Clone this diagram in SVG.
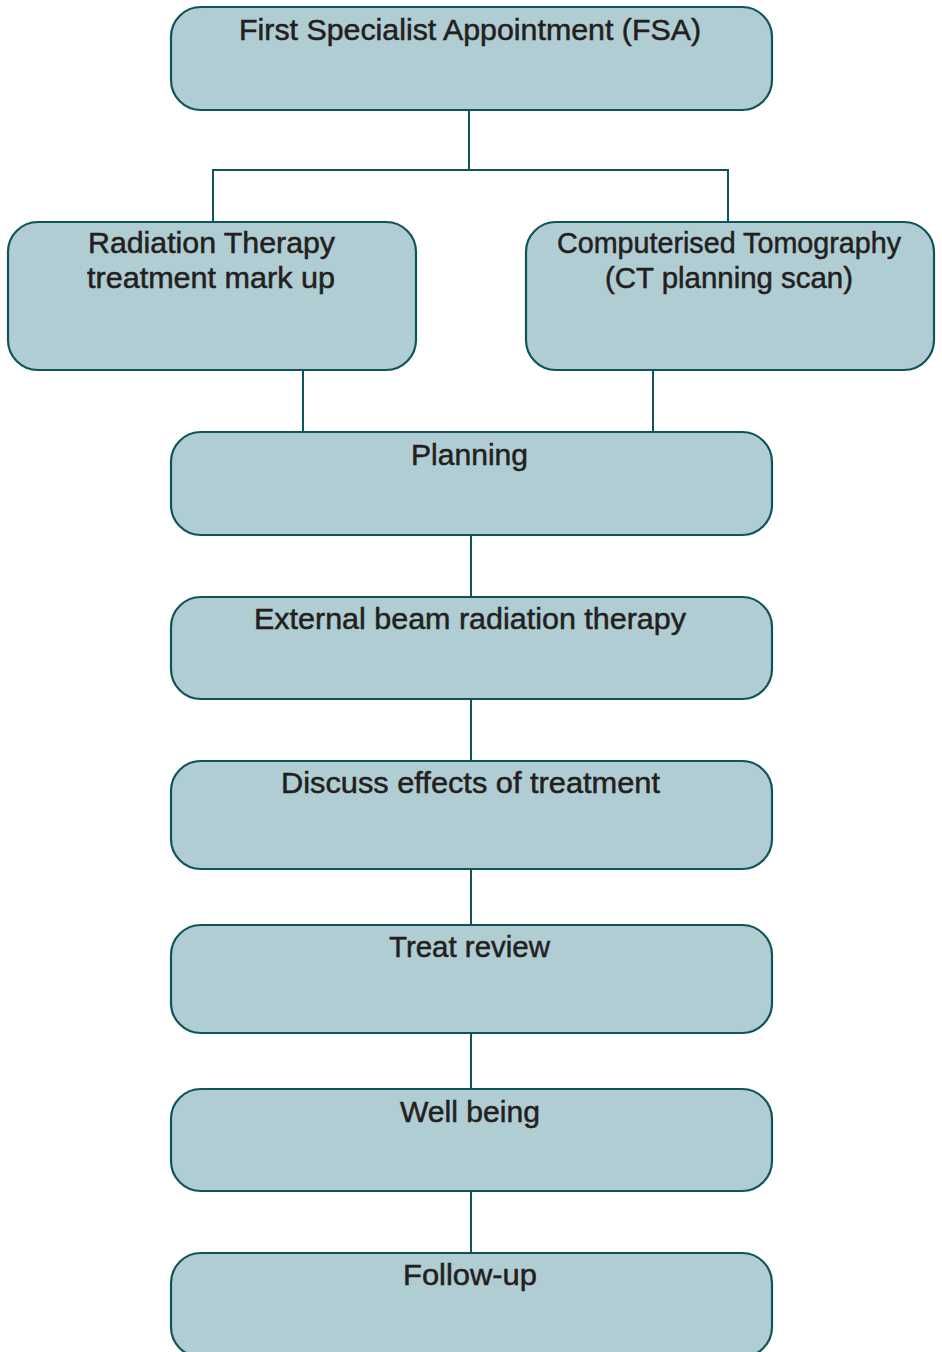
<svg xmlns="http://www.w3.org/2000/svg" width="942" height="1352" viewBox="0 0 942 1352">
<style>
.box{fill:#b0cdd3;stroke:#0f5458;stroke-width:2.2}
.lbl{font-family:"Liberation Sans",Arial,sans-serif;font-size:29px;fill:#231f20;stroke:#231f20;stroke-width:0.5;text-anchor:middle}
.ln{fill:none;stroke:#0f5458;stroke-width:2}
</style>
<rect width="942" height="1352" fill="#ffffff"/>
<g id="connectors">
<path class="ln" d="M469 110 V170"/>
<path class="ln" d="M213 222 V170 H728 V222" stroke="#1c3336"/>
<path class="ln" d="M303 370 V432"/>
<path class="ln" d="M653 370 V432"/>
<path class="ln" d="M471 535 V597"/>
<path class="ln" d="M471 699 V761"/>
<path class="ln" d="M471 869 V925"/>
<path class="ln" d="M471 1033 V1089"/>
<path class="ln" d="M471 1191 V1253"/>
</g>
<g id="fsa">
<rect class="box" x="171" y="7" width="601" height="103" rx="30"/>
<text class="lbl" x="470" y="39.5" textLength="462" lengthAdjust="spacingAndGlyphs">First Specialist Appointment (FSA)</text>
</g>
<g id="markup">
<rect class="box" x="8" y="222" width="408" height="148" rx="30"/>
<text class="lbl" x="211.5" y="253" textLength="247" lengthAdjust="spacingAndGlyphs">Radiation Therapy</text>
<text class="lbl" x="211" y="288" textLength="248" lengthAdjust="spacingAndGlyphs">treatment mark up</text>
</g>
<g id="ct">
<rect class="box" x="526" y="222" width="408" height="148" rx="30"/>
<text class="lbl" x="729" y="253" textLength="344" lengthAdjust="spacingAndGlyphs">Computerised Tomography</text>
<text class="lbl" x="729" y="288" textLength="248" lengthAdjust="spacingAndGlyphs">(CT planning scan)</text>
</g>
<g id="planning">
<rect class="box" x="171" y="432" width="601" height="103" rx="30"/>
<text class="lbl" x="469.5" y="465" textLength="117" lengthAdjust="spacingAndGlyphs">Planning</text>
</g>
<g id="ebrt">
<rect class="box" x="171" y="597" width="601" height="102" rx="30"/>
<text class="lbl" x="470" y="629" textLength="432" lengthAdjust="spacingAndGlyphs">External beam radiation therapy</text>
</g>
<g id="discuss">
<rect class="box" x="171" y="761" width="601" height="108" rx="30"/>
<text class="lbl" x="470.5" y="793" textLength="379" lengthAdjust="spacingAndGlyphs">Discuss effects of treatment</text>
</g>
<g id="review">
<rect class="box" x="171" y="925" width="601" height="108" rx="30"/>
<text class="lbl" x="469.5" y="957" textLength="161" lengthAdjust="spacingAndGlyphs">Treat review</text>
</g>
<g id="wellbeing">
<rect class="box" x="171" y="1089" width="601" height="102" rx="30"/>
<text class="lbl" x="470" y="1121.5" textLength="140" lengthAdjust="spacingAndGlyphs">Well being</text>
</g>
<g id="followup">
<rect class="box" x="171" y="1253" width="601" height="104" rx="30"/>
<text class="lbl" x="470" y="1285" textLength="134" lengthAdjust="spacingAndGlyphs">Follow-up</text>
</g>
</svg>
